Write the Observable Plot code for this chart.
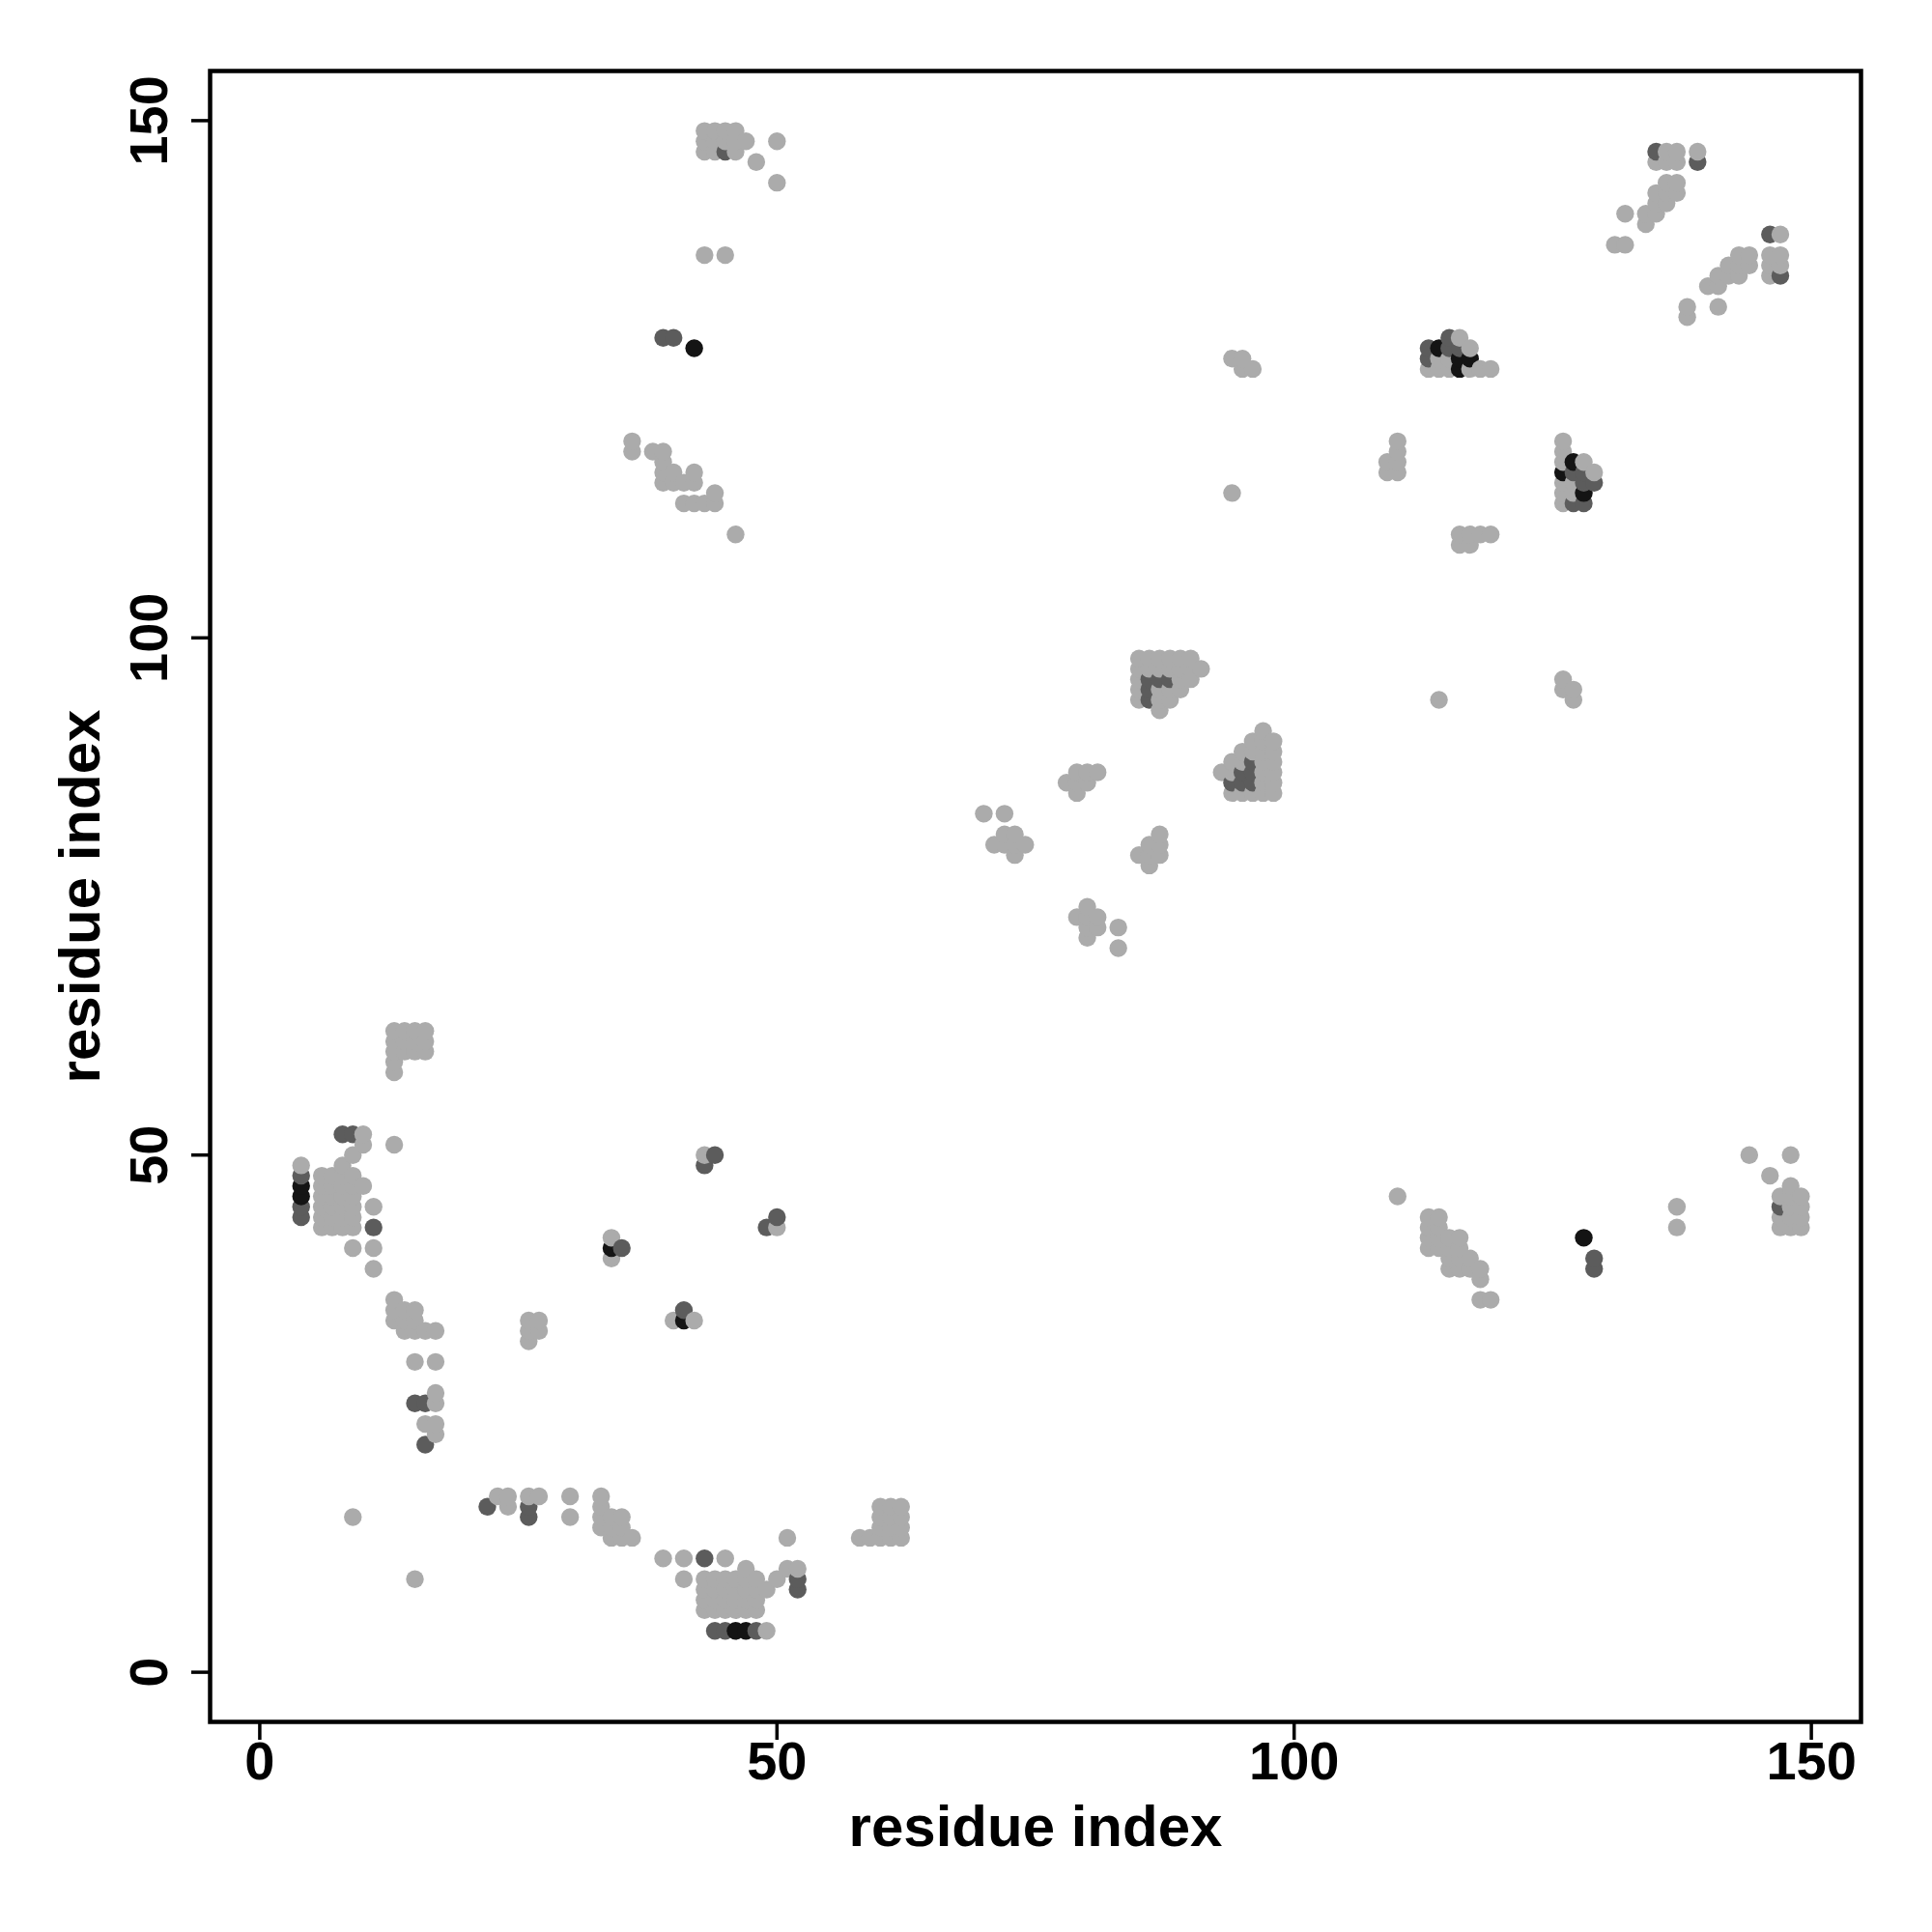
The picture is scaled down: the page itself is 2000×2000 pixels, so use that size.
<!DOCTYPE html>
<html>
<head>
<meta charset="utf-8">
<script src="https://cdn.jsdelivr.net/npm/d3@7"></script>
<script src="https://cdn.jsdelivr.net/npm/@observablehq/plot@0.6"></script>
<style>
  html, body { margin: 0; padding: 0; background: #ffffff; }
</style>
</head>
<body>
<div id="chart"></div>
<script>
// ---- data: residue-pair contacts, grouped by shade (light / dark / black) ----
const lightPts = [
  [4,49],
  [6,48],[7,48],[8,48],[9,48],
  [6,47],[7,47],[8,47],[9,47],
  [6,46],[7,46],[8,46],[9,46],
  [6,45],[7,45],[8,45],[9,45],
  [6,44],[7,44],[8,44],[9,44],
  [6,43],[7,43],[8,43],[9,43],
  [8,49],[9,50],[10,51],[10,52],[13,51],[10,47],[11,45],[9,41],[11,41],[11,39],
  [13,62],[14,62],[15,62],[16,62],[13,61],[14,61],[15,61],[16,61],
  [13,60],[14,60],[15,60],[16,60],[13,59],[13,58],
  [9,15],
  [13,36],[13,35],[14,35],[15,35],[13,34],[14,34],[15,34],[14,33],[15,33],[16,33],[17,33],
  [15,30],[17,30],[17,27],[17,26],[16,24],[17,24],[17,23],
  [23,17],[24,17],[24,16],[26,17],[27,17],[30,17],[30,15],
  [26,34],[27,34],[26,33],[27,33],[26,32],
  [15,9],
  [33,17],[33,16],[33,15],[33,14],[34,15],[35,15],[34,14],[35,14],[34,13],[35,13],[36,13],
  [39,11],[41,11],[41,9],[45,11],[47,10],
  [43,9],[44,9],[45,9],[46,9],[47,9],[48,9],
  [43,8],[44,8],[45,8],[46,8],[47,8],[48,8],[49,8],
  [43,7],[44,7],[45,7],[46,7],[47,7],[48,7],
  [43,6],[44,6],[45,6],[46,6],[47,6],[48,6],
  [50,9],[51,10],[52,10],[49,4],[51,13],
  [60,16],[61,16],[62,16],[60,15],[61,15],[62,15],[60,14],[61,14],[62,14],[60,13],[61,13],[62,13],[58,13],[59,13],
  [43,50],[50,43],[34,42],[34,40],[40,34],[42,34],
  [43,149],[44,149],[45,149],[46,149],[43,148],[44,148],[45,148],[46,148],[47,148],
  [43,147],[44,147],[46,147],[48,146],[50,148],[50,144],[43,137],[45,137],
  [36,119],[36,118],[38,118],[39,118],[39,117],[39,116],[40,116],[39,115],[40,115],[41,115],
  [42,116],[42,115],[44,114],[41,113],[42,113],[43,113],[44,113],[46,110],
  [85,98],[86,98],[87,98],[88,98],[89,98],[90,98],
  [85,97],[86,97],[87,97],[88,97],[89,97],[90,97],[91,97],
  [85,96],[89,96],[90,96],
  [85,95],[87,95],[88,95],[89,95],
  [85,94],[87,94],[88,94],[87,93],
  [97,91],[96,90],[97,90],[98,90],[95,89],[96,89],[97,89],[98,89],[94,88],[95,88],[97,88],[98,88],
  [93,87],[94,87],[97,87],[98,87],[97,86],[98,86],[94,85],[95,85],[96,85],[97,85],[98,85],
  [79,87],[80,87],[81,87],[78,86],[79,86],[80,86],[79,85],
  [70,83],[72,83],[72,81],[73,81],[71,80],[72,80],[73,80],[74,80],[73,79],
  [80,74],[79,73],[80,73],[81,73],[80,72],[81,72],[80,71],[83,72],[83,70],
  [87,81],[86,80],[87,80],[85,79],[86,79],[87,79],[86,78],
  [116,129],[117,128],[114,127],[115,127],[113,126],[114,126],[115,126],[117,126],[118,126],[119,126],
  [110,119],[110,118],[110,117],[110,116],[109,117],[109,116],
  [126,119],[126,118],[126,117],[126,115],[126,114],[126,113],[127,115],[127,114],[128,117],[129,116],
  [116,110],[117,110],[118,110],[119,110],[116,109],[117,109],
  [136,147],[137,147],[139,147],[135,146],[136,146],[137,146],
  [136,144],[137,144],[135,143],[136,143],[137,143],[135,142],[136,142],[134,141],[135,141],[134,140],
  [132,141],[131,138],[132,138],
  [147,139],[146,137],[147,137],[146,136],[147,136],[146,135],
  [143,137],[144,137],[142,136],[143,136],[144,136],[141,135],[142,135],[143,135],[140,134],[141,134],
  [138,132],[138,131],[141,132],
  [110,46],[113,44],[114,44],[113,43],[114,43],[113,42],[114,42],[115,42],[116,42],
  [113,41],[114,41],[115,41],[116,41],[115,40],[116,40],[117,40],[115,39],[116,39],[117,39],[118,39],
  [118,38],[118,36],[119,36],
  [137,45],[137,43],[144,50],[148,50],[146,48],[148,47],[147,46],[148,46],[149,46],[148,45],[149,45],
  [147,44],[148,44],[149,44],[147,43],[148,43],[149,43],
  [94,127],[95,127],[95,126],[96,126],[94,114],[114,94],[126,96],[126,95],[127,95],[127,94]
];

const darkPts = [
  [4,48],[4,45],[4,44],[8,52],[9,52],[11,43],
  [15,26],[16,26],[16,22],[22,16],[26,16],[26,15],
  [43,11],[52,9],[52,8],[44,4],[45,4],[48,4],
  [44,50],[43,49],[50,44],[49,43],[35,41],[41,35],
  [45,147],[39,129],[40,129],
  [86,96],[87,96],[88,96],[86,95],[86,94],
  [96,88],[95,87],[96,87],[94,86],[95,86],[96,86],
  [115,129],[113,128],[115,128],[116,128],[113,127],
  [127,116],[127,113],[128,116],[128,115],[128,113],[129,115],
  [135,147],[139,146],[146,139],[147,135],
  [129,40],[129,39],
  [147,45]
];

const blackPts = [
  [4,47],[4,46],[46,4],[47,4],[34,41],[41,34],[42,128],
  [114,128],[116,127],[117,127],[116,126],
  [126,116],[127,117],[128,114],
  [128,42]
];

const shadeLevels = ["light", "dark", "black"];
const tickValues = [0, 50, 100, 150];
const axisTitle = "residue index";

// ---- table built from the arrays (drawn in residue order) ----
const points = [
  ...lightPts.map(([x, y]) => ({x, y, level: "light"})),
  ...darkPts.map(([x, y]) => ({x, y, level: "dark"})),
  ...blackPts.map(([x, y]) => ({x, y, level: "black"}))
].sort((a, b) => (a.x - b.x) || (a.y - b.y));

const FONT = "'Liberation Sans', Arial, Helvetica, sans-serif";

const chart = Plot.plot({
  width: 2000,
  height: 2000,
  marginLeft: 217,
  marginRight: 74,
  marginTop: 73,
  marginBottom: 218,
  x: {domain: [-4.8, 154.8]},
  y: {domain: [-4.8, 154.8]},
  color: {domain: shadeLevels, range: ["#ABABAB", "#5C5C5C", "#141414"]},
  style: {fontFamily: FONT, fontWeight: "bold", background: "#ffffff", color: "#000000"},
  marks: [
    Plot.dot(points, {x: "x", y: "y", r: 9.2, fill: "level", stroke: null}),
    Plot.frame({stroke: "#000000", strokeWidth: 4.5}),
    Plot.axisX({ticks: tickValues, tickSize: 19, tickPadding: 1, fontSize: 56, fontWeight: "bold", strokeWidth: 3.5, label: null}),
    Plot.axisY({ticks: tickValues, tickSize: 19, tickFormat: () => "", strokeWidth: 3.5, label: null}),
    Plot.text(tickValues, {y: d => d, frameAnchor: "left", dx: -45, rotate: -90,
      textAnchor: "middle", lineAnchor: "bottom", fontSize: 56, fontWeight: "bold", text: d => String(d)}),
    Plot.text([axisTitle], {frameAnchor: "bottom", dy: 128, lineAnchor: "bottom",
      fontSize: 60, fontWeight: "bold"}),
    Plot.text([axisTitle], {frameAnchor: "left", dx: -115, rotate: -90, textAnchor: "middle",
      lineAnchor: "bottom", fontSize: 60, fontWeight: "bold"})
  ]
});

document.getElementById("chart").appendChild(chart);
</script>
</body>
</html>
